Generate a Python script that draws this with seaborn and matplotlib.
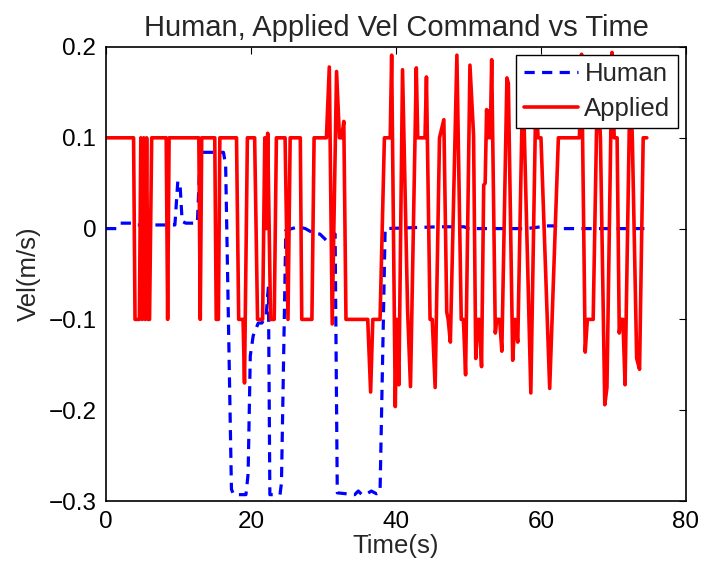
import numpy as np
import pandas as pd
import matplotlib
matplotlib.use("Agg")
import matplotlib.pyplot as plt
import seaborn as sns

# ---- data ----
applied_t = [0, 3.8, 4.0, 4.6, 4.8, 5.0, 5.2, 5.4, 5.6, 5.8, 6.0, 6.3, 8.3, 8.5, 8.7,
             12.8, 13.0, 13.2, 15.0, 15.2, 15.5, 15.7, 18.0, 18.3, 18.9, 19.1, 19.5,
             20.5, 20.9, 21.6, 21.9, 22.1, 22.3, 22.5, 22.7, 23.2, 23.5, 24.7, 25.1,
             25.4, 26.8, 27.0, 28.4, 28.7, 30.4, 30.8, 31.2, 31.8, 32.2, 32.5, 32.8,
             33.1, 36.1, 36.5, 36.8, 37.8, 38.4, 39.2, 39.4, 39.9, 40.1, 40.4, 40.9,
             41.6, 42.0, 42.8, 43.0, 44.0, 44.2, 44.7, 45.0, 45.4, 46.0, 46.6, 47.0,
             47.2, 47.5, 48.4, 49.0, 49.3, 49.6, 50.2, 50.7, 51.0, 51.3, 51.5, 51.8,
             52.1, 52.3, 52.5, 52.7, 52.9, 53.0, 53.2, 53.7, 53.9, 54.3, 54.6, 55.3,
             55.5, 56.1, 56.4, 56.8, 57.5, 58.6, 59.3, 59.6, 60.0, 61.2, 62.4, 65.3,
             65.6, 66.1, 66.4, 67.2, 67.8, 68.2, 68.8, 69.1, 69.8, 70.1, 70.5, 70.8,
             71.0, 71.3, 71.6, 72.3, 72.6, 73.2, 73.6, 74.1, 74.6]
applied_v = [0.1, 0.1, -0.1, -0.1, 0.1, -0.1, 0.1, -0.1, 0.1, -0.1, -0.1, 0.1, 0.1, -0.1, 0.1,
             0.1, -0.1, 0.1, 0.1, -0.1, -0.1, 0.1, 0.1, -0.1, -0.1, -0.17, 0.1,
             0.1, -0.1, -0.1, 0.1, 0.0, 0.105, 0.0, -0.1, -0.1, 0.1, 0.1, -0.1,
             0.1, 0.1, -0.1, -0.1, 0.1, 0.1, 0.178, -0.105, 0.173, 0.1, 0.1, 0.118,
             -0.1, -0.1, -0.18, -0.1, -0.1, 0.1, 0.1, 0.191, -0.196, -0.1, -0.172, 0.175,
             -0.09, -0.174, 0.177, 0.1, 0.1, 0.167, -0.1, -0.1, -0.175, 0.1, 0.12, -0.092,
             -0.1, -0.125, 0.191, -0.1, -0.1, -0.161, 0.18, 0.103, -0.143, -0.1, -0.1, -0.152,
             0.048, 0.05, 0.131, 0.1, 0.13, 0.1, 0.186, -0.115, -0.1, -0.1, -0.135, 0.166,
             0.16, -0.145, -0.1, -0.125, 0.17, -0.181, 0.15, 0.1, 0.1, -0.176, 0.1, 0.1,
             0.192, -0.136, -0.1, -0.1, 0.17, 0.1, -0.194, -0.175, 0.194, 0.1, 0.1, -0.115,
             -0.1, -0.1, -0.172, 0.17, 0.1, -0.143, -0.155, 0.1, 0.1]

human_t = [0, 1.5, 2.0, 3.5, 4.0, 9.5, 9.9, 10.2, 10.5, 11.0, 12.6, 13.0, 16.2, 16.5,
           17.3, 17.6, 19.3, 19.6, 19.9, 20.3, 21.0, 21.5, 22.1, 22.4, 22.6, 24.0,
           24.2, 24.8, 26.5, 27.5, 28.6, 29.5, 30.4, 30.8, 31.6, 31.9, 34.3, 34.8,
           35.3, 36.0, 36.6, 37.3, 37.8, 38.5, 45.9, 46.9, 48.2, 49.4, 50.0, 58.0,
           59.0, 61.0, 61.7, 62.5, 74.6]
human_v = [0.0, 0.0, 0.006, 0.006, 0.004, 0.004, 0.052, 0.05, 0.008, 0.006, 0.006, 0.084, 0.084, 0.07,
           -0.287, -0.293, -0.293, -0.27, -0.14, -0.118, -0.104, -0.104, -0.095, -0.064, -0.293, -0.293,
           -0.28, -0.002, 0.002, 0.0, -0.005, -0.006, -0.013, -0.014, -0.006, -0.291, -0.293, -0.289,
           -0.293, -0.292, -0.289, -0.292, -0.29, 0.0, 0.002, 0.002, 0.002, 0.002, 0.0, 0.0,
           0.001, 0.003, 0.003, 0.0, 0.0]

x_ticks = [0, 20, 40, 60, 80]
y_ticks = [-0.3, -0.2, -0.1, 0, 0.1, 0.2]
y_ticklabels = ['\u22120.3', '\u22120.2', '\u22120.1', '0', '0.1', '0.2']

# ---- styling ----
sns.set_style("white")
plt.rcParams['font.family'] = ['Liberation Sans', 'DejaVu Sans']

fig = plt.figure(figsize=(7.05, 5.69), dpi=100)
ax = fig.add_axes([0.1504, 0.1195, 0.8226, 0.7979])

df_h = pd.DataFrame({'t': human_t, 'v': human_v})
df_a = pd.DataFrame({'t': applied_t, 'v': applied_v})

sns.lineplot(data=df_h, x='t', y='v', ax=ax, color='#0000ff', lw=2.3,
             sort=False, estimator=None, label='Human',
             linestyle=(0, (3.2, 2.3)))
sns.lineplot(data=df_a, x='t', y='v', ax=ax, color='#ff0000', lw=2.6,
             sort=False, estimator=None, label='Applied')

ax.set_xlim(0, 80)
ax.set_ylim(-0.3, 0.2)
ax.set_xticks(x_ticks)
ax.set_yticks(y_ticks)
ax.set_yticklabels(y_ticklabels)
ax.tick_params(direction='in', length=5, width=0.8, labelsize=17.5, top=True, right=True,
               colors='black')
ax.tick_params(axis='x', pad=7)
ax.tick_params(axis='y', pad=7)
for s in ax.spines.values():
    s.set_visible(True)
    s.set_color('black')
    s.set_linewidth(1.2)

ax.set_xlabel('Time(s)', fontsize=18.5, labelpad=1)
ax.set_ylabel('Vel(m/s)', fontsize=18.5, labelpad=5)
ax.set_title('Human, Applied Vel Command vs Time', fontsize=21, pad=8)

leg = ax.legend(loc='upper right', fontsize=18.5, frameon=True, fancybox=False,
                borderpad=0.3, labelspacing=0.4, handlelength=2.1, handletextpad=0.25,
                borderaxespad=0.3, framealpha=1)
leg.get_frame().set_edgecolor('black')
leg.get_frame().set_linewidth(1.0)

fig.savefig('out.png', dpi=100)
